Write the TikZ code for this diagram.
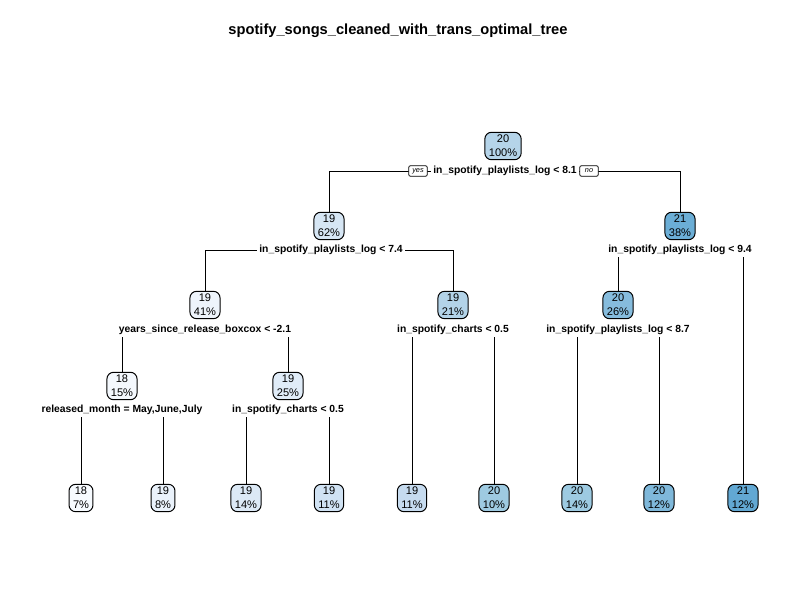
\documentclass[tikz,border=0pt]{standalone}
\usepackage{fontspec}
\setmainfont{Liberation Sans}
\usetikzlibrary{backgrounds}
\definecolor{c18a}{HTML}{F7FBFF}
\definecolor{c18b}{HTML}{F4F8FD}
\definecolor{c19a}{HTML}{EAF2FB}
\definecolor{c19b}{HTML}{EEF4FB}
\definecolor{c19c}{HTML}{E0ECF8}
\definecolor{c19d}{HTML}{DCE9F6}
\definecolor{c19e}{HTML}{D6E6F4}
\definecolor{c19f}{HTML}{D0E2F3}
\definecolor{c19g}{HTML}{C6DBEF}
\definecolor{c19h}{HTML}{B3D3E8}
\definecolor{c20a}{HTML}{B5D4E9}
\definecolor{c20b}{HTML}{9ECAE1}
\definecolor{c20c}{HTML}{9DCAE1}
\definecolor{c20d}{HTML}{86BCDD}
\definecolor{c20e}{HTML}{7FB8DA}
\definecolor{c21a}{HTML}{6BAED6}
\definecolor{c21b}{HTML}{62A8D3}
\tikzset{
  box/.style={draw=black, line width=0.75pt, rounded corners=5pt, align=center,
    inner xsep=3pt, inner ysep=2.2pt, font=\fontsize{8.3}{10.3}\selectfont},
  split/.style={fill=white, inner xsep=1.5pt, inner ysep=1.5pt, font=\fontsize{7.75}{9}\selectfont\bfseries},
  yn/.style={draw=black, fill=white, line width=0.6pt, rounded corners=1.5pt, inner xsep=1pt, inner ysep=0.5pt,
    minimum width=14pt, minimum height=8pt, font=\fontsize{5.5}{6}\selectfont\itshape},
  edge/.style={draw=black, line width=0.7pt}
}
\begin{document}
\begin{tikzpicture}[x=0.75pt, y=-0.75pt]
\useasboundingbox (0,0) rectangle (800,600);
\node[font=\fontsize{11}{13}\selectfont\bfseries] (title) at (398,31) {spotify\_songs\_cleaned\_with\_trans\_optimal\_tree};
% boxes
\node[box, fill=c20a] (n1) at (503,146) {20\\100\%};
\node[box, fill=c19e] (n2) at (329,226) {19\\62\%};
\node[box, fill=c21a] (n3) at (680,226) {21\\38\%};
\node[box, fill=c19b] (n4) at (205,305) {19\\41\%};
\node[box, fill=c19h] (n5) at (453,305) {19\\21\%};
\node[box, fill=c20d] (n6) at (618,305) {20\\26\%};
\node[box, fill=c18b] (n8) at (122,386) {18\\15\%};
\node[box, fill=c19c] (n9) at (288,386) {19\\25\%};
\node[box, fill=c18a] (L1) at (81,498) {18\\7\%};
\node[box, fill=c19a] (L2) at (163,498) {19\\8\%};
\node[box, fill=c19d] (L3) at (246,498) {19\\14\%};
\node[box, fill=c19f] (L4) at (329,498) {19\\11\%};
\node[box, fill=c19g] (L5) at (412,498) {19\\11\%};
\node[box, fill=c20b] (L6) at (494,498) {20\\10\%};
\node[box, fill=c20c] (L7) at (577,498) {20\\14\%};
\node[box, fill=c20e] (L8) at (659,498) {20\\12\%};
\node[box, fill=c21b] (L9) at (743,498) {21\\12\%};
% split labels
\node[split] (s1) at (505,171) {in\_spotify\_playlists\_log < 8.1};
\node[split] (s2) at (331,250) {in\_spotify\_playlists\_log < 7.4};
\node[split] (s3) at (680,250) {in\_spotify\_playlists\_log < 9.4};
\node[split] (s4) at (205,330) {years\_since\_release\_boxcox < -2.1};
\node[split] (s5) at (453,330) {in\_spotify\_charts < 0.5};
\node[split] (s6) at (618,330) {in\_spotify\_playlists\_log < 8.7};
\node[split] (s8) at (122,410) {released\_month = May,June,July};
\node[split] (s9) at (288,410) {in\_spotify\_charts < 0.5};
\node[yn] (yes) at (418,171) {yes};
\node[yn] (no) at (589,171) {no};
% edges
\begin{scope}[on background layer]
\fill[white] (0,0) rectangle (800,600);
\draw[edge] (n2.north) |- (s1.center);
\draw[edge] (n3.north) |- (s1.center);
\draw[edge] (n4.north) |- (s2.center);
\draw[edge] (n5.north) |- (s2.center);
\draw[edge] (n6.north) |- (s3.center);
\draw[edge] (L9.north) |- (s3.center);
\draw[edge] (n8.north) |- (s4.center);
\draw[edge] (n9.north) |- (s4.center);
\draw[edge] (L5.north) |- (s5.center);
\draw[edge] (L6.north) |- (s5.center);
\draw[edge] (L7.north) |- (s6.center);
\draw[edge] (L8.north) |- (s6.center);
\draw[edge] (L1.north) |- (s8.center);
\draw[edge] (L2.north) |- (s8.center);
\draw[edge] (L3.north) |- (s9.center);
\draw[edge] (L4.north) |- (s9.center);
\end{scope}
\end{tikzpicture}
\end{document}
